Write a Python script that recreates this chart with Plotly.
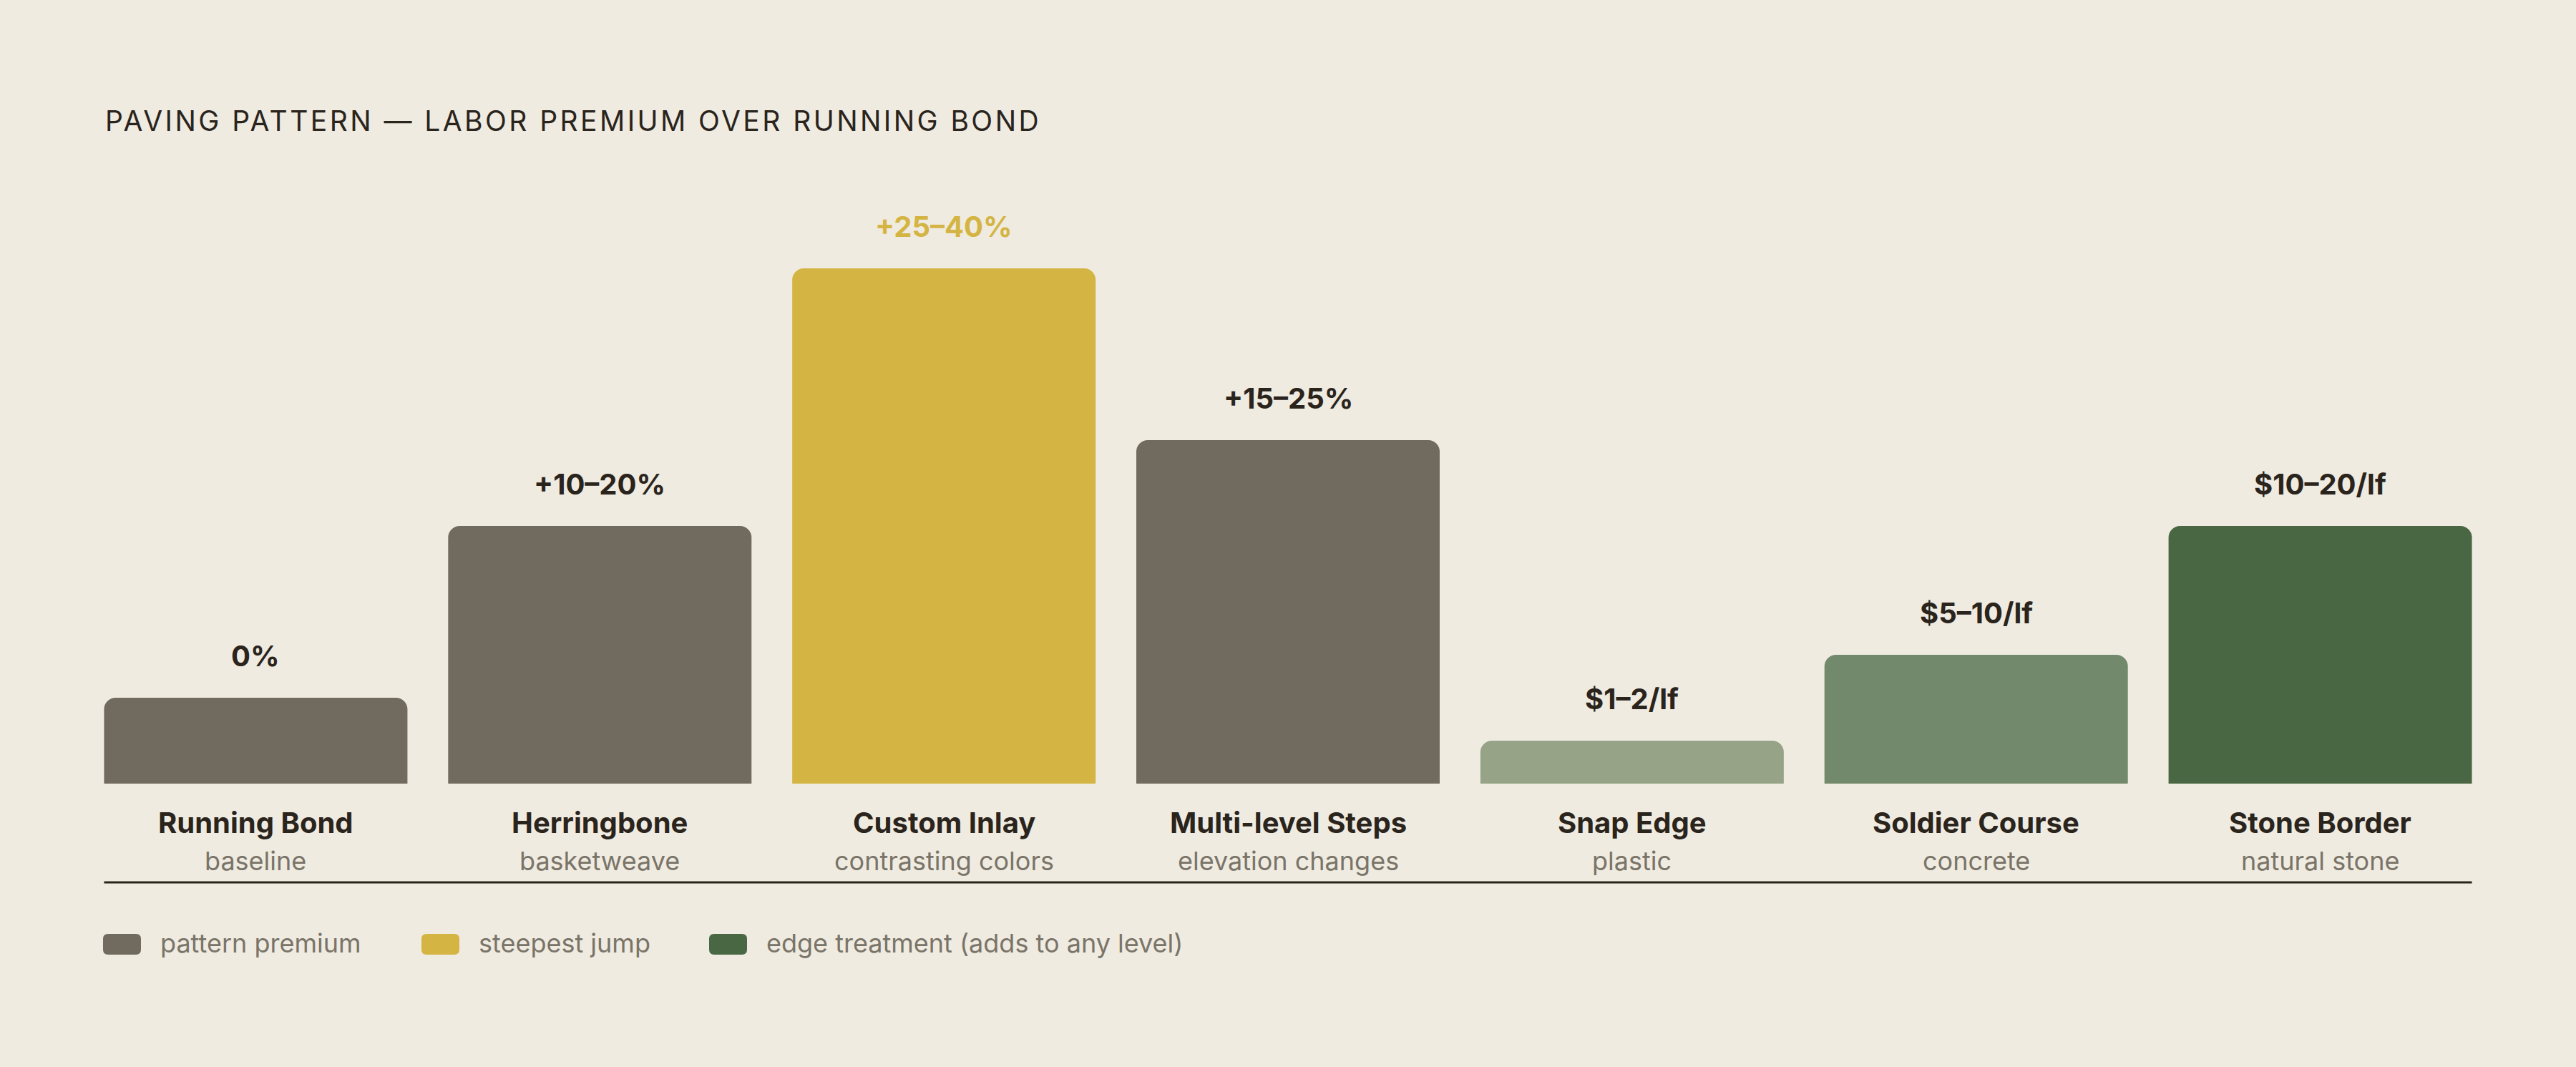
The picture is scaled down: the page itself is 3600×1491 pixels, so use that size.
import plotly.graph_objects as go

# ---------------- data ----------------
categories = ["Running Bond", "Herringbone", "Custom Inlay", "Multi-level Steps",
              "Snap Edge", "Soldier Course", "Stone Border"]
subtitles = ["baseline", "basketweave", "contrasting colors", "elevation changes",
             "plastic", "concrete", "natural stone"]
bar_values = [5, 15, 30, 20, 2.5, 7.5, 15]
value_labels = ["0%", "+10–20%", "+25–40%", "+15–25%", "$1–2/lf", "$5–10/lf", "$10–20/lf"]
bar_colors = ["#716A5E", "#716A5E", "#D4B442", "#716A5E", "#97A387", "#73896B", "#4A6743"]
label_colors = ["#2A241C", "#2A241C", "#D4B442", "#2A241C", "#2A241C", "#2A241C", "#2A241C"]
legend_labels = ["pattern premium", "steepest jump", "edge treatment (adds to any level)"]
legend_colors = ["#716A5E", "#D4B442", "#4A6743"]
title_text = "PAVING PATTERN — LABOR PREMIUM OVER RUNNING BOND"

# ---------------- layout constants ----------------
W, H = 3600, 1491
ML, MR, MT, MB = 117, 117, 300, 396
PW, PH = W - ML - MR, H - MT - MB
BASE_PX = MT + PH
BARGAP = 0.1183
BG = "#EFEBE1"
DARK = "#2A241C"
MUTED = "#7A7468"
FONT = "Inter"


def px_x(px):
    return (px - ML) / PW


def px_y(py):
    return (BASE_PX - py) / PH


fig = go.Figure()
fig.add_trace(go.Bar(
    x=categories, y=bar_values,
    marker=dict(color=bar_colors, cornerradius=16, line=dict(width=0)),
    hoverinfo="skip", showlegend=False,
))

annotations = []
for cat, val, lab, col in zip(categories, bar_values, value_labels, label_colors):
    annotations.append(dict(
        x=cat, y=val, xref="x", yref="y", text=lab, showarrow=False,
        yanchor="bottom", xanchor="center", yshift=32,
        font=dict(family=FONT, size=40, color=col, weight=700)))
for cat, sub in zip(categories, subtitles):
    annotations.append(dict(
        x=cat, y=0, xref="x", yref="y", text=cat, showarrow=False,
        yanchor="top", xanchor="center", yshift=-28,
        font=dict(family=FONT, size=40, color=DARK, weight=700)))
    annotations.append(dict(
        x=cat, y=0, xref="x", yref="y", text=sub, showarrow=False,
        yanchor="top", xanchor="center", yshift=-84,
        font=dict(family=FONT, size=36, color=MUTED)))

# title
annotations.append(dict(
    x=px_x(145), y=px_y(168), xref="paper", yref="paper", text=title_text,
    showarrow=False, xanchor="left", yanchor="middle", align="left",
    font=dict(family=FONT, size=39, color=DARK, weight=400)))

shapes = []
# baseline rule under the category labels
shapes.append(dict(type="line", xref="x", yref="paper",
                   x0=-0.5 + BARGAP / 2, x1=len(categories) - 0.5 - BARGAP / 2,
                   y0=px_y(1233), y1=px_y(1233),
                   line=dict(color=DARK, width=3)))


def rounded_rect(x0, y0, x1, y1, r):
    pts = [
        ("M", x0 + r, y0), ("L", x1 - r, y0), ("Q", (x1, y0), (x1, y0 + r)),
        ("L", x1, y1 - r), ("Q", (x1, y1), (x1 - r, y1)),
        ("L", x0 + r, y1), ("Q", (x0, y1), (x0, y1 - r)),
        ("L", x0, y0 + r), ("Q", (x0, y0), (x0 + r, y0)),
    ]
    out = []
    for p in pts:
        if p[0] == "Q":
            (cx, cy), (ex, ey) = p[1], p[2]
            out.append(f"Q {px_x(cx):.6f},{px_y(cy):.6f} {px_x(ex):.6f},{px_y(ey):.6f}")
        else:
            out.append(f"{p[0]} {px_x(p[1]):.6f},{px_y(p[2]):.6f}")
    return " ".join(out) + " Z"


legend_x = [144, 589, 991]
for lx, lab, col in zip(legend_x, legend_labels, legend_colors):
    shapes.append(dict(type="path", xref="paper", yref="paper",
                       path=rounded_rect(lx, 1305, lx + 53, 1334, 7),
                       fillcolor=col, line=dict(width=0)))
    annotations.append(dict(
        x=px_x(lx + 78), y=px_y(1318), xref="paper", yref="paper", text=lab,
        showarrow=False, xanchor="left", yanchor="middle", align="left",
        font=dict(family=FONT, size=36, color=MUTED)))

fig.update_layout(
    width=W, height=H,
    margin=dict(l=ML, r=MR, t=MT, b=MB, pad=0),
    paper_bgcolor=BG, plot_bgcolor=BG,
    bargap=BARGAP,
    xaxis=dict(range=[-0.5, len(categories) - 0.5], showticklabels=False,
               showgrid=False, zeroline=False, showline=False, fixedrange=True),
    yaxis=dict(range=[0, 33.125], showticklabels=False, showgrid=False,
               zeroline=False, showline=False, fixedrange=True),
    annotations=annotations, shapes=shapes,
    font=dict(family=FONT, color=DARK),
    showlegend=False,
)

post = """
document.documentElement.style.margin = '0';
document.documentElement.style.background = '#EFEBE1';
document.body.style.margin = '0';
document.body.style.padding = '0';
document.body.style.overflow = 'hidden';
document.body.style.background = '#EFEBE1';
document.querySelectorAll('text.annotation-text').forEach(function(e){
  if (e.textContent.indexOf('PAVING') === 0) { e.style.letterSpacing = '0.088em'; }
});
"""
fig.write_html("out.html", post_script=post, config={"displayModeBar": False})
